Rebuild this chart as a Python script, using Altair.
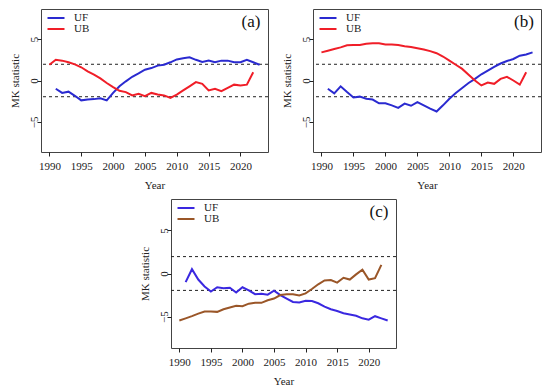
import altair as alt
import pandas as pd

years_uf = list(range(1991, 2024))
years_ub = list(range(1990, 2023))

a_uf = [-1.0, -1.5, -1.35, -1.85, -2.4, -2.3, -2.25, -2.15, -2.4, -1.5, -0.7, -0.1, 0.45, 0.85,
        1.3, 1.5, 1.8, 1.9, 2.2, 2.55, 2.7, 2.8, 2.5, 2.25, 2.4, 2.2, 2.4, 2.4, 2.2, 2.2, 2.5, 2.2, 1.9]
a_ub = [1.9, 2.5, 2.4, 2.2, 1.95, 1.6, 1.1, 0.7, 0.25, -0.3, -0.8, -1.25, -1.4, -1.8, -1.6, -1.9,
        -1.5, -1.7, -1.8, -2.1, -1.7, -1.2, -0.7, -0.2, -0.4, -1.2, -1.0, -1.3, -0.9, -0.5, -0.6, -0.5, 1.0]

b_uf = [-1.0, -1.55, -0.7, -1.4, -2.05, -1.95, -2.2, -2.3, -2.75, -2.75, -3.0, -3.3, -2.8, -3.05,
        -2.6, -3.0, -3.4, -3.75, -3.0, -2.2, -1.5, -0.9, -0.3, 0.2, 0.75, 1.2, 1.65, 2.05, 2.35,
        2.6, 3.0, 3.15, 3.4]
b_ub = [3.4, 3.6, 3.8, 4.0, 4.25, 4.3, 4.3, 4.45, 4.5, 4.5, 4.35, 4.35, 4.3, 4.15, 4.05, 3.9,
        3.75, 3.55, 3.3, 2.9, 2.4, 1.9, 1.4, 0.7, 0.0, -0.6, -0.25, -0.4, 0.2, 0.45, 0.0, -0.5, 1.0]

c_uf = [-1.0, 0.5, -0.7, -1.5, -2.1, -1.6, -1.7, -1.65, -2.2, -1.6, -1.95, -2.4, -2.35, -2.45,
        -2.0, -2.5, -2.9, -3.3, -3.35, -3.15, -3.2, -3.45, -3.85, -4.15, -4.35, -4.6, -4.75,
        -4.9, -5.2, -5.35, -4.95, -5.2, -5.45]
c_ub = [-5.45, -5.2, -4.95, -4.65, -4.4, -4.4, -4.45, -4.15, -3.95, -3.75, -3.8, -3.5, -3.4,
        -3.4, -3.1, -2.9, -2.5, -2.4, -2.4, -2.55, -2.3, -1.8, -1.25, -0.8, -0.75, -1.05, -0.5,
        -0.7, -0.1, 0.45, -0.7, -0.55, 1.0]

series = ["UF", "UB"]
thresholds = [1.96, -1.96]
x_ticks = [1990, 1995, 2000, 2005, 2010, 2015, 2020]
y_ticks = [5, 0, -5]

FONT = "Liberation Serif"


def make_df(uf, ub):
    d1 = pd.DataFrame({"Year": years_uf, "MK": uf, "s": "UF"})
    d2 = pd.DataFrame({"Year": years_ub, "MK": ub, "s": "UB"})
    return pd.concat([d1, d2], ignore_index=True)


def panel(uf, ub, colors, label, w, h):
    df = make_df(uf, ub)
    xs = alt.Scale(domain=[1988.68, 2024.32], nice=False, zero=False)
    ys = alt.Scale(domain=[-8.64, 8.64], nice=False, zero=False)
    lines = alt.Chart(df).mark_line(strokeWidth=2, clip=True).encode(
        x=alt.X("Year:Q", scale=xs,
                axis=alt.Axis(values=x_ticks, format="d", title="Year", labelPadding=4,
                              titlePadding=8, labelFont=FONT, titleFont=FONT)),
        y=alt.Y("MK:Q", scale=ys,
                axis=alt.Axis(values=y_ticks, title="MK statistic", labelAngle=270,
                              labelPadding=3, titlePadding=8, labelBaseline="middle",
                              labelAlign="center", labelFont=FONT, titleFont=FONT)),
        color=alt.Color("s:N", scale=alt.Scale(domain=series, range=colors),
                        legend=alt.Legend(title=None, orient="none", legendX=9, legendY=3,
                                          symbolType="M-1.7,0H1.7", symbolSize=100,
                                          symbolStrokeWidth=2, labelFont=FONT,
                                          labelFontSize=11, rowPadding=0, labelOffset=12,
                                          labelColor="#222")),
        order="Year:Q",
    )
    rules = alt.Chart(pd.DataFrame({"t": thresholds})).mark_rule(
        color="#222", strokeDash=[3, 3], strokeWidth=1
    ).encode(y=alt.Y("t:Q", scale=ys))
    txt = alt.Chart(pd.DataFrame({"lab": [label]})).mark_text(
        font=FONT, fontSize=17, align="center", baseline="middle", color="#111"
    ).encode(text="lab:N", x=alt.value(w - 17), y=alt.value(13))
    return alt.layer(rules, lines, txt).properties(width=w, height=h)


pa = panel(a_uf, a_ub, ["#2a2ad0", "#f01e28"], "(a)", 227, 143)
pb = panel(b_uf, b_ub, ["#2a2ad0", "#f01e28"], "(b)", 228, 143)
pc = panel(c_uf, c_ub, ["#3a28e0", "#9a5628"], "(c)", 225, 149)

spacer = alt.Chart(pd.DataFrame({"v": [0]})).mark_point(opacity=0).encode(
    x=alt.X("v:Q", axis=None), y=alt.Y("v:Q", axis=None)
).properties(width=97, height=149, view=alt.ViewBackground(strokeOpacity=0))

top = alt.hconcat(pa, pb, spacing=11).resolve_scale(color="independent", x="independent", y="independent")
bottom = alt.hconcat(spacer, pc, spacing=0).resolve_scale(color="independent", x="independent", y="independent")
chart = alt.vconcat(top, bottom, spacing=7).resolve_scale(
    color="independent", x="independent", y="independent"
).properties(padding=0, background="white").configure_view(
    stroke="#444", strokeWidth=1
).configure_axis(
    domain=False, grid=False, tickColor="#222", tickSize=4, labelFont=FONT, titleFont=FONT,
    labelFontSize=11, titleFontSize=11, labelColor="#222", titleColor="#222",
    titleFontWeight="normal"
)

chart.save("out.html", embed_options={"renderer": "svg", "actions": False})
